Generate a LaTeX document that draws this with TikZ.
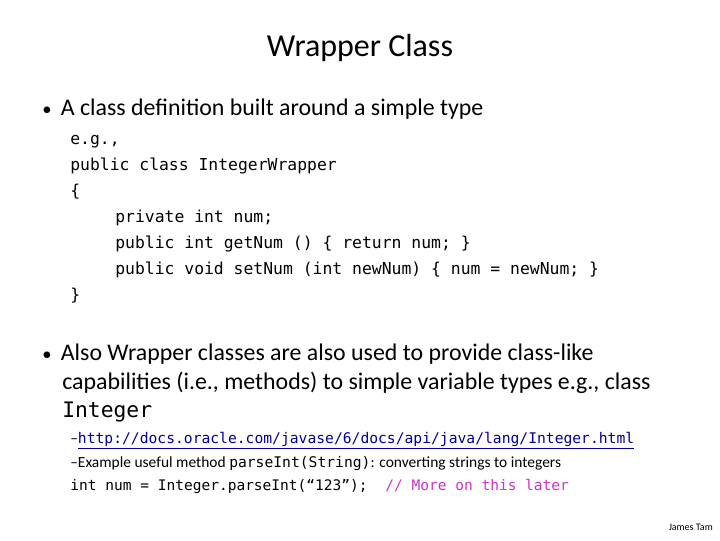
\documentclass[tikz,border=0pt]{standalone}
\usepackage{fontspec}
\setmainfont{Carlito}
\setmonofont{DejaVu Sans Mono}
\definecolor{linkblue}{RGB}{0,0,153}
\definecolor{cmt}{RGB}{204,51,204}
\begin{document}
\begin{tikzpicture}[x=0.75pt,y=-0.75pt,
  txt/.style={anchor=base west,inner sep=0pt},
  code/.style={txt,font=\fontsize{12.3}{14}\ttfamily},
  bul/.style={txt,font=\fontsize{17.9}{20}\selectfont},
  sub/.style={txt,font=\fontsize{11.6}{13}\selectfont}]
\useasboundingbox[fill=white] (0,0) rectangle (720,540);
\node[anchor=base,inner sep=0pt,font=\fontsize{24}{28}\selectfont] (title) at (360,56) {Wrapper Class};
\node[bul] (b1) at (42,115) {{\fontsize{14}{14}\selectfont•}\hspace{7pt}A class definition built around a simple type};
\node[code] (c0) at (70,144) {e.g.,};
\node[code] (c1) at (70,170) {public class IntegerWrapper};
\node[code] (c2) at (70,196) {\{};
\node[code] (c3) at (115,222) {private int num;};
\node[code] (c4) at (115,248) {public int getNum () \{ return num; \}};
\node[code] (c5) at (115,274) {public void setNum (int newNum) \{ num = newNum; \}};
\node[code] (c6) at (70,300) {\}};
\node[bul] (b2) at (42,360) {{\fontsize{14}{14}\selectfont•}\hspace{7pt}Also Wrapper classes are also used to provide class-like};
\node[bul] (b3) at (62,389) {capabilities (i.e., methods) to simple variable types e.g., class};
\node[bul] (b4) at (62,417) {\fontsize{16}{20}\ttfamily Integer};
\node[sub] (s1) at (70,443) {–\textcolor{linkblue}{\fontsize{11}{13}\ttfamily\underline{http://docs.oracle.com/javase/6/docs/api/java/lang/Integer.html}}};
\node[sub] (s2) at (70,467) {–Example useful method {\fontsize{11}{13}\ttfamily parseInt(String)}: converting strings to integers};
\node[txt,font=\fontsize{10.9}{13}\ttfamily] (s3) at (70,490) {int num = Integer.parseInt(“123”);\ \ \textcolor{cmt}{// More on this later}};
\node[anchor=base east,inner sep=0pt,font=\fontsize{7.5}{9}\selectfont] (jt) at (713,530) {James Tam};
\end{tikzpicture}
\end{document}
